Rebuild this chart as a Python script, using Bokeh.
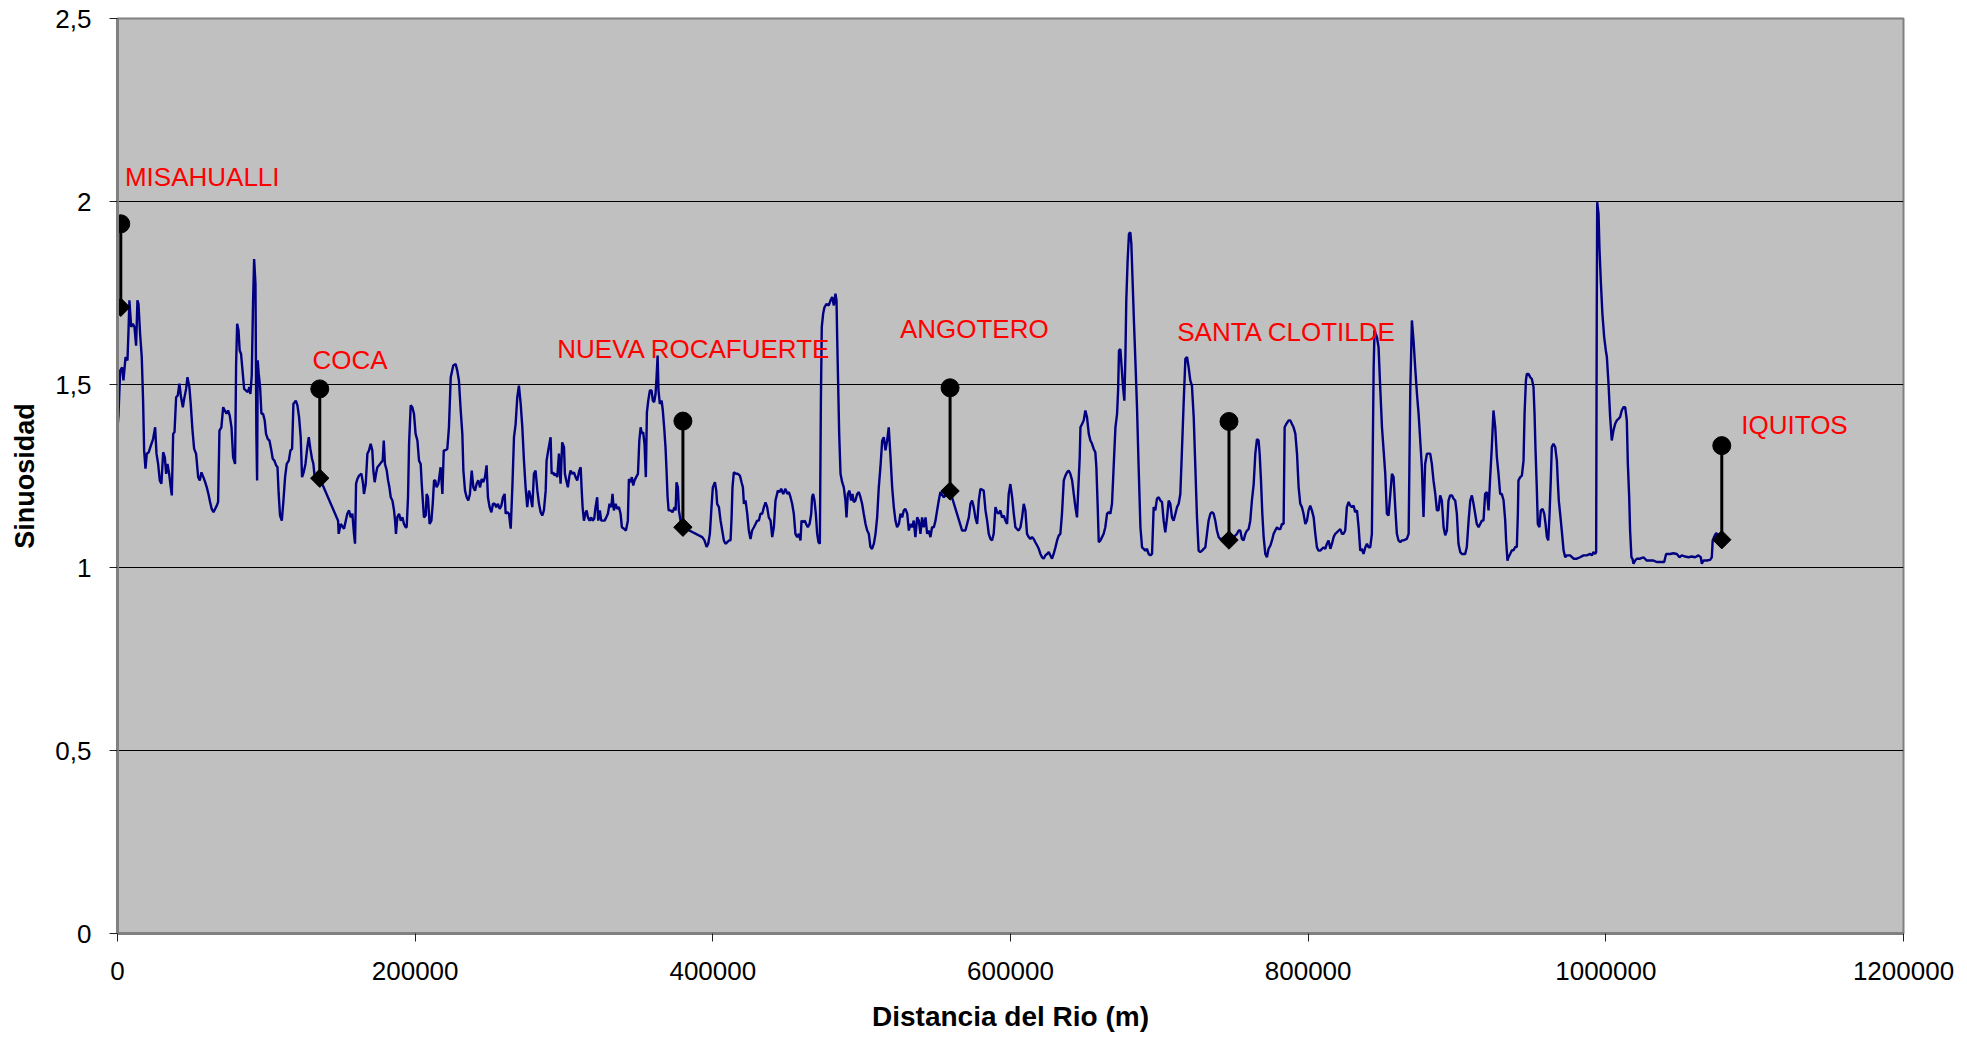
import numpy as np
from bokeh.plotting import figure
from bokeh.models import Range1d, FixedTicker
from bokeh.core.properties import value
from bokeh.embed import file_html
from bokeh.resources import INLINE

# ---------------- data ----------------
x_ticks = [0, 200000, 400000, 600000, 800000, 1000000, 1200000]
x_tick_labels = ["0", "200000", "400000", "600000", "800000", "1000000", "1200000"]
y_ticks = [0, 0.5, 1, 1.5, 2, 2.5]
y_tick_labels = ["0", "0,5", "1", "1,5", "2", "2,5"]

# river profile, Misahualli -> Coca
dist_a = [0, 650, 1800, 3100, 4000, 5400, 6700, 7400, 8000, 9200,
          10300, 11400, 12500, 13400, 14100, 15200, 16300, 17200, 17900, 18800,
          19700, 21000, 22400, 23900, 25300, 26200, 27300, 28400, 29500, 30700,
          31800, 32700, 33600, 34700, 35800, 36500, 37400, 38300, 39400, 40500,
          41600, 42700, 43900, 44800, 46100, 47000, 48300, 49200, 50400, 51500,
          52800, 54200, 55300, 56400, 57700, 58900, 60000, 61100, 62200, 63300,
          64500, 65600, 66700, 67600, 68500, 69800, 71000, 72100, 73200, 74300,
          75400, 76600, 77700, 79000, 79700, 80400, 81300, 82100, 83000, 84200,
          85100, 86200, 87500, 88600, 89300, 90200, 91100, 91800, 92700, 93300,
          93800, 94200, 94900, 95800, 96700, 97800, 98900, 99800, 101000, 102100,
          103200, 104300, 105400, 106600, 107500, 108300, 109200, 110400, 111500, 112600,
          113700, 115100, 116200, 117300, 118200, 119800, 120900, 122000, 123100, 124000,
          125100, 126300, 127400, 128500, 129600, 130700, 131600, 132500, 135900]
sin_a = [1.383, 1.415, 1.538, 1.547, 1.511, 1.575, 1.566, 1.648, 1.730, 1.657,
         1.666, 1.657, 1.606, 1.730, 1.720, 1.638, 1.575, 1.456, 1.320, 1.270,
         1.311, 1.315, 1.333, 1.351, 1.383, 1.311, 1.283, 1.238, 1.229, 1.315,
         1.301, 1.256, 1.283, 1.256, 1.219, 1.197, 1.365, 1.370, 1.465, 1.470,
         1.502, 1.465, 1.438, 1.461, 1.488, 1.520, 1.493, 1.447, 1.374, 1.324,
         1.311, 1.247, 1.238, 1.260, 1.247, 1.233, 1.219, 1.201, 1.179, 1.160,
         1.151, 1.160, 1.169, 1.179, 1.374, 1.383, 1.438, 1.429, 1.420, 1.429,
         1.415, 1.383, 1.301, 1.283, 1.556, 1.666, 1.648, 1.593, 1.584, 1.529,
         1.488, 1.484, 1.479, 1.493, 1.474, 1.525, 1.730, 1.843, 1.775, 1.365,
         1.238, 1.566, 1.529, 1.493, 1.420, 1.420, 1.402, 1.365, 1.351, 1.347,
         1.324, 1.297, 1.292, 1.279, 1.274, 1.201, 1.142, 1.128, 1.183, 1.247,
         1.283, 1.292, 1.320, 1.324, 1.447, 1.456, 1.443, 1.411, 1.356, 1.247,
         1.260, 1.283, 1.324, 1.356, 1.324, 1.297, 1.283, 1.247, 1.244]

# Coca -> ~290 km
dist_b = [148200, 148600, 150000, 152200, 154400, 155600, 156700, 157800, 158900, 159600,
          160300, 161200, 162300, 163900, 165000, 165600, 166800, 167900, 169000, 170100,
          171200, 171900, 172800, 173700, 174600, 175700, 177300, 178200, 178900, 179700,
          180900, 181800, 182700, 183600, 184700, 185800, 186500, 187100, 188000, 189200,
          190300, 191400, 192500, 193600, 194300, 195200, 195900, 197000, 198100, 199200,
          200300, 201500, 202600, 203700, 204400, 205300, 205900, 207100, 207700, 208600,
          209700, 210900, 211800, 212700, 213500, 214400, 215600, 217100, 218300, 219200,
          220000, 221600, 222700, 223900, 225600, 227200, 228300, 229400, 230600, 231700,
          232400, 233500, 234600, 235700, 236800, 238000, 239100, 240200, 241300, 242400,
          243600, 244700, 245800, 246900, 248000, 248900, 250000, 251200, 252300, 253400,
          254500, 255600, 256800, 257900, 259000, 260100, 260800, 261900, 263000, 264200,
          265300, 266400, 267500, 268600, 269700, 270900, 272000, 273100, 274200, 275300,
          276500, 277600, 278700, 279800, 280900, 282100, 283200, 284300, 285400, 286500,
          287700, 288300, 289400]
sin_b = [1.128, 1.092, 1.119, 1.106, 1.147, 1.156, 1.137, 1.147, 1.092, 1.065,
         1.229, 1.242, 1.251, 1.256, 1.229, 1.201, 1.229, 1.311, 1.320, 1.338,
         1.320, 1.265, 1.233, 1.256, 1.274, 1.279, 1.288, 1.292, 1.347, 1.283,
         1.265, 1.238, 1.219, 1.192, 1.183, 1.156, 1.128, 1.092, 1.137, 1.147,
         1.128, 1.137, 1.119, 1.110, 1.110, 1.192, 1.338, 1.443, 1.438, 1.420,
         1.365, 1.347, 1.292, 1.283, 1.229, 1.174, 1.137, 1.142, 1.201, 1.192,
         1.119, 1.128, 1.174, 1.238, 1.238, 1.219, 1.229, 1.274, 1.201, 1.320,
         1.320, 1.324, 1.383, 1.520, 1.552, 1.556, 1.538, 1.511, 1.429, 1.365,
         1.265, 1.210, 1.192, 1.183, 1.201, 1.265, 1.219, 1.210, 1.229, 1.238,
         1.219, 1.242, 1.233, 1.247, 1.279, 1.192, 1.165, 1.151, 1.174, 1.174,
         1.165, 1.174, 1.160, 1.169, 1.192, 1.201, 1.147, 1.151, 1.147, 1.106,
         1.219, 1.356, 1.392, 1.465, 1.497, 1.447, 1.383, 1.292, 1.219, 1.165,
         1.210, 1.192, 1.165, 1.256, 1.265, 1.210, 1.174, 1.151, 1.142, 1.156,
         1.210, 1.292, 1.320]

# ~290 km -> Nueva Rocafuerte -> ~442 km
dist_c = [291000, 291700, 292800, 293700, 294600, 295500, 296600, 297700, 298800, 300000,
          300600, 301800, 302600, 303500, 304400, 305600, 306700, 307800, 308900, 310300,
          311200, 311800, 312500, 313400, 314300, 315200, 316100, 317200, 318300, 319200,
          320300, 321200, 322300, 323000, 324100, 325000, 326200, 327300, 328400, 329500,
          330600, 331800, 332600, 333500, 334700, 335800, 336900, 338000, 338900, 340300,
          341600, 342900, 343600, 344700, 345600, 346500, 347400, 348500, 349700, 350600,
          351500, 352300, 353200, 354100, 355000, 355700, 356600, 357700, 358800, 359700,
          360600, 361500, 362200, 362900, 363500, 364400, 365600, 366400, 367300, 368200,
          368900, 369600, 370300, 371600, 372900, 374300, 375000, 375600, 376500, 377200,
          378300, 379900, 392900, 394400, 395800, 396900, 398000, 399100, 400000, 401400,
          402300, 402900, 404100, 405200, 406300, 407400, 408500, 409700, 411000, 411900,
          412600, 413200, 414100, 415500, 416800, 418200, 419300, 420200, 420900, 422000,
          423100, 424200, 425300, 426400, 427600, 428700, 429800, 430900, 432000, 433200,
          434300, 435400, 436500, 437600, 438800, 439900, 441000, 442100]
sin_c = [1.356, 1.256, 1.260, 1.251, 1.256, 1.247, 1.311, 1.229, 1.342, 1.329,
         1.256, 1.233, 1.219, 1.247, 1.265, 1.256, 1.260, 1.247, 1.238, 1.265,
         1.274, 1.219, 1.165, 1.128, 1.147, 1.156, 1.137, 1.128, 1.137, 1.128,
         1.133, 1.165, 1.192, 1.128, 1.156, 1.128, 1.128, 1.128, 1.137, 1.147,
         1.174, 1.165, 1.201, 1.156, 1.174, 1.160, 1.165, 1.147, 1.110, 1.106,
         1.101, 1.128, 1.242, 1.233, 1.247, 1.224, 1.238, 1.247, 1.256, 1.347,
         1.383, 1.365, 1.370, 1.338, 1.247, 1.424, 1.456, 1.484, 1.484, 1.456,
         1.452, 1.474, 1.520, 1.579, 1.484, 1.447, 1.456, 1.429, 1.383, 1.329,
         1.265, 1.192, 1.156, 1.156, 1.151, 1.165, 1.156, 1.233, 1.219, 1.156,
         1.128, 1.110, 1.083, 1.074, 1.056, 1.065, 1.092, 1.165, 1.219, 1.233,
         1.210, 1.174, 1.165, 1.128, 1.101, 1.074, 1.065, 1.069, 1.074, 1.074,
         1.137, 1.219, 1.260, 1.256, 1.256, 1.251, 1.233, 1.219, 1.174, 1.183,
         1.147, 1.101, 1.078, 1.101, 1.110, 1.119, 1.128, 1.128, 1.147, 1.147,
         1.165, 1.178, 1.165, 1.137, 1.128, 1.083, 1.110, 1.183]

# ~443 km -> Angotero -> ~580 km
dist_d = [443700, 445000, 445900, 447300, 448800, 450000, 451100, 452200, 453300, 454400,
          455500, 456700, 457800, 458900, 459600, 460700, 461800, 462700, 463800, 465000,
          466100, 466700, 467400, 468300, 469200, 470100, 471000, 471900, 472600, 473200,
          474100, 475000, 476400, 477900, 479100, 480200, 481300, 482400, 483100, 483500,
          484200, 484900, 485800, 486900, 488000, 489100, 489800, 490700, 491800, 492900,
          493800, 494700, 495800, 497000, 498100, 499200, 500300, 501400, 502600, 503700,
          504800, 505900, 507000, 508200, 509300, 510400, 511500, 512600, 513800, 514900,
          516000, 517100, 518200, 519400, 520500, 521600, 522700, 523800, 525000, 526100,
          527200, 528300, 529400, 530600, 531700, 532800, 533900, 535000, 536100, 537300,
          538400, 539500, 540600, 541700, 542900, 544000, 545100, 546200, 547300, 548500,
          549600, 550700, 551800, 552900, 555200, 559400, 567500, 569700, 572000, 573100,
          574200, 575300, 576400, 577600, 578700, 579800]
sin_d = [1.210, 1.206, 1.215, 1.201, 1.215, 1.201, 1.206, 1.192, 1.174, 1.147,
         1.092, 1.083, 1.092, 1.074, 1.128, 1.124, 1.128, 1.119, 1.110, 1.119,
         1.147, 1.192, 1.201, 1.183, 1.147, 1.092, 1.069, 1.065, 1.456, 1.657,
         1.693, 1.711, 1.720, 1.716, 1.730, 1.739, 1.716, 1.748, 1.730, 1.638,
         1.502, 1.365, 1.256, 1.233, 1.219, 1.183, 1.137, 1.201, 1.210, 1.183,
         1.201, 1.179, 1.183, 1.201, 1.206, 1.192, 1.174, 1.147, 1.119, 1.101,
         1.092, 1.056, 1.051, 1.065, 1.092, 1.137, 1.219, 1.274, 1.347, 1.356,
         1.320, 1.347, 1.383, 1.301, 1.219, 1.165, 1.128, 1.110, 1.119, 1.147,
         1.137, 1.156, 1.160, 1.147, 1.101, 1.119, 1.110, 1.128, 1.083, 1.137,
         1.128, 1.092, 1.137, 1.110, 1.137, 1.092, 1.101, 1.083, 1.110, 1.110,
         1.128, 1.156, 1.183, 1.206, 1.192, 1.209, 1.101, 1.101, 1.137, 1.174,
         1.183, 1.165, 1.137, 1.119, 1.183, 1.215]

# ~582 km -> Santa Clotilde -> ~874 km
dist_e = [582000, 583200, 584300, 585400, 586500, 587600, 588700, 589900, 591000, 592100,
          593200, 594300, 595500, 596600, 597700, 598800, 599900, 601100, 602200, 603300,
          604400, 605500, 606700, 607800, 608900, 610000, 611100, 612300, 613400, 614500,
          615600, 616700, 617900, 619000, 620100, 621200, 622300, 623400, 624600, 625700,
          626800, 627900, 629000, 630200, 631300, 632400, 633500, 634600, 635800, 636900,
          638000, 639100, 640200, 641400, 642500, 643600, 644700, 645800, 646500, 647000,
          648100, 649200, 650300, 651400, 652600, 653700, 654800, 655900, 657000, 657700,
          658600, 659300, 660400, 661500, 662600, 663700, 664900, 666000, 667100, 668200,
          669300, 670500, 671600, 672300, 672900, 673800, 674700, 675600, 676500, 677200,
          677800, 678700, 679600, 680500, 681200, 682100, 683000, 683900, 685000, 686100,
          687300, 688400, 689500, 690600, 691700, 692800, 694000, 695100, 696200, 697300,
          698400, 699600, 700700, 701800, 702900, 704000, 705200, 706300, 707400, 708500,
          709600, 710800, 711900, 713000, 714100, 715200, 716400, 717500, 718600, 719700,
          720800, 721900, 723100, 724200, 725300, 726400, 727500, 728700, 729800, 730900,
          732000, 733100, 734300, 735400, 736500, 737600, 738700, 739900, 741000, 743200,
          746800, 749900, 752200, 753300, 754400, 755500, 756600, 757800, 758900, 760000,
          761100, 762200, 763400, 764500, 765600, 766700, 767400, 768300, 769200, 770100,
          771200, 772300, 773400, 774600, 775700, 776800, 777900, 779000, 780200, 781300,
          782400, 783500, 784200, 785300, 786900, 788000, 789100, 790200, 791400, 792500,
          793600, 794700, 795800, 796900, 798100, 799200, 800300, 801400, 802500, 803700,
          804800, 805900, 807000, 808100, 809300, 810400, 811500, 812600, 813700, 814900,
          816000, 817100, 818200, 819300, 820500, 821600, 822700, 823800, 824900, 826000,
          827200, 828300, 829400, 830500, 831600, 832800, 833900, 835000, 836100, 837200,
          838400, 839500, 840600, 841700, 842800, 844000, 844600, 845500, 846200, 847300,
          848400, 849600, 850700, 851800, 852900, 854000, 855200, 856300, 857400, 858500,
          859600, 860700, 861900, 863000, 864100, 866300, 867500, 868600, 869700, 870800,
          871900, 873100, 874200]
sin_e = [1.210, 1.156, 1.128, 1.092, 1.078, 1.074, 1.092, 1.165, 1.151, 1.147,
         1.156, 1.137, 1.142, 1.128, 1.119, 1.201, 1.228, 1.192, 1.147, 1.110,
         1.105, 1.101, 1.110, 1.137, 1.174, 1.156, 1.092, 1.083, 1.078, 1.083,
         1.078, 1.069, 1.060, 1.051, 1.037, 1.028, 1.024, 1.033, 1.037, 1.042,
         1.033, 1.024, 1.037, 1.055, 1.074, 1.087, 1.092, 1.147, 1.238, 1.251,
         1.260, 1.265, 1.256, 1.238, 1.201, 1.165, 1.137, 1.238, 1.301, 1.383,
         1.392, 1.402, 1.429, 1.411, 1.365, 1.347, 1.338, 1.324, 1.315, 1.274,
         1.165, 1.069, 1.074, 1.083, 1.092, 1.110, 1.147, 1.151, 1.147, 1.174,
         1.274, 1.383, 1.420, 1.484, 1.593, 1.597, 1.547, 1.493, 1.456, 1.575,
         1.730, 1.839, 1.912, 1.916, 1.884, 1.775, 1.666, 1.566, 1.438, 1.274,
         1.110, 1.055, 1.051, 1.046, 1.051, 1.037, 1.033, 1.037, 1.165, 1.156,
         1.188, 1.192, 1.183, 1.179, 1.128, 1.096, 1.137, 1.183, 1.174, 1.137,
         1.128, 1.147, 1.165, 1.174, 1.201, 1.320, 1.456, 1.570, 1.575, 1.547,
         1.511, 1.497, 1.411, 1.274, 1.137, 1.046, 1.042, 1.046, 1.051, 1.055,
         1.092, 1.128, 1.147, 1.151, 1.147, 1.128, 1.101, 1.083, 1.078, 1.078,
         1.075, 1.083, 1.092, 1.101, 1.101, 1.078, 1.074, 1.092, 1.101, 1.105,
         1.128, 1.183, 1.228, 1.311, 1.351, 1.347, 1.311, 1.238, 1.147, 1.083,
         1.037, 1.028, 1.051, 1.060, 1.074, 1.092, 1.101, 1.110, 1.105, 1.105,
         1.119, 1.119, 1.383, 1.392, 1.402, 1.402, 1.392, 1.383, 1.365, 1.311,
         1.219, 1.174, 1.165, 1.147, 1.119, 1.128, 1.156, 1.169, 1.156, 1.137,
         1.092, 1.055, 1.046, 1.046, 1.051, 1.055, 1.051, 1.065, 1.074, 1.051,
         1.065, 1.083, 1.092, 1.096, 1.101, 1.105, 1.092, 1.092, 1.101, 1.165,
         1.179, 1.169, 1.165, 1.169, 1.151, 1.156, 1.110, 1.046, 1.051, 1.037,
         1.055, 1.065, 1.055, 1.055, 1.092, 1.547, 1.648, 1.638, 1.629, 1.602,
         1.493, 1.383, 1.320, 1.256, 1.147, 1.142, 1.201, 1.256, 1.247, 1.165,
         1.092, 1.074, 1.069, 1.074, 1.074, 1.078, 1.092, 1.484, 1.675, 1.620,
         1.547, 1.474, 1.420]

# ~876 km -> Iquitos
dist_f = [876400, 877500, 878600, 879800, 882000, 883100, 884200, 885400, 886500, 887600,
          888700, 889800, 891000, 892100, 893200, 894300, 895400, 896600, 897700, 898800,
          899900, 901000, 902200, 903300, 905500, 906600, 907800, 908900, 910000, 911100,
          912200, 913300, 914500, 915600, 916700, 917800, 918900, 920100, 921200, 922300,
          923400, 924500, 925700, 926800, 927900, 929000, 930100, 931300, 932400, 933000,
          933900, 934600, 935700, 936900, 938000, 939100, 940200, 940900, 941300, 942500,
          943600, 944700, 945400, 946300, 946900, 948000, 949200, 950300, 951400, 952100,
          952700, 953600, 954300, 955400, 956300, 957500, 958600, 959500, 960400, 961300,
          962200, 963000, 963700, 964800, 966000, 967100, 967700, 968400, 969300, 970400,
          971600, 972700, 973800, 976000, 978300, 980500, 982700, 985000, 987200, 989500,
          990600, 991700, 992800, 993500, 993900, 994200, 995100, 995700, 996600, 997700,
          998900, 1000000, 1000700, 1001800, 1002900, 1004000, 1005100, 1006300, 1007400, 1008500,
          1009600, 1010700, 1011900, 1013000, 1014100, 1014800, 1015700, 1016300, 1017200, 1017900,
          1018600, 1019700, 1020800, 1023000, 1025300, 1027500, 1029800, 1032000, 1034200, 1036500,
          1039200, 1040500, 1043200, 1045400, 1047700, 1049500, 1051000, 1053300, 1055500, 1057700,
          1060000, 1062200, 1063800, 1064500, 1065600, 1067800, 1070100, 1071200, 1071800, 1072700,
          1074100, 1075700]
sin_f = [1.274, 1.138, 1.283, 1.311, 1.311, 1.283, 1.238, 1.201, 1.156, 1.156,
         1.197, 1.183, 1.110, 1.088, 1.101, 1.183, 1.197, 1.197, 1.188, 1.183,
         1.147, 1.065, 1.042, 1.037, 1.037, 1.056, 1.128, 1.183, 1.197, 1.174,
         1.147, 1.119, 1.110, 1.119, 1.128, 1.128, 1.201, 1.206, 1.156, 1.247,
         1.329, 1.429, 1.383, 1.301, 1.256, 1.201, 1.201, 1.183, 1.128, 1.074,
         1.019, 1.028, 1.037, 1.047, 1.047, 1.056, 1.056, 1.147, 1.238, 1.247,
         1.251, 1.292, 1.420, 1.511, 1.529, 1.529, 1.520, 1.515, 1.493, 1.420,
         1.329, 1.220, 1.119, 1.110, 1.156, 1.160, 1.147, 1.119, 1.083, 1.074,
         1.147, 1.238, 1.329, 1.338, 1.329, 1.292, 1.238, 1.183, 1.147, 1.101,
         1.047, 1.028, 1.033, 1.033, 1.024, 1.024, 1.028, 1.033, 1.033, 1.037,
         1.033, 1.042, 1.037, 1.042, 1.693, 1.998, 1.966, 1.875, 1.784, 1.693,
         1.629, 1.593, 1.575, 1.502, 1.411, 1.347, 1.374, 1.393, 1.402, 1.406,
         1.411, 1.429, 1.438, 1.438, 1.402, 1.283, 1.192, 1.101, 1.028, 1.024,
         1.010, 1.019, 1.024, 1.024, 1.028, 1.019, 1.019, 1.019, 1.015, 1.015,
         1.015, 1.037, 1.037, 1.039, 1.037, 1.028, 1.033, 1.030, 1.028, 1.030,
         1.028, 1.033, 1.028, 1.010, 1.019, 1.019, 1.021, 1.028, 1.074, 1.083,
         1.094, 1.088]

# towns: upper (circle) and lower (diamond) sinuosity values
towns = ["MISAHUALLI", "COCA", "NUEVA ROCAFUERTE", "ANGOTERO", "SANTA CLOTILDE", "IQUITOS"]
town_dist = [2200, 135900, 379900, 559400, 746800, 1077900]
town_upper = [1.939, 1.488, 1.400, 1.491, 1.399, 1.333]
town_lower = [1.711, 1.244, 1.110, 1.209, 1.075, 1.076]
label_x = [5000, 131000, 295500, 525700, 712000, 1091000]
label_y = [2.067, 1.566, 1.598, 1.652, 1.643, 1.388]

# ---------------- figure ----------------
dist = dist_a + dist_b + dist_c + dist_d + dist_e + dist_f
sinu = sin_a + sin_b + sin_c + sin_d + sin_e + sin_f
n = min(len(dist), len(sinu))
dist, sinu = dist[:n], sinu[:n]

p = figure(width=1967, height=1037, output_backend="svg", toolbar_location=None,
           x_range=Range1d(0, 1200000), y_range=Range1d(0, 2.5),
           min_border_left=117, min_border_right=64, min_border_top=18, min_border_bottom=104)

p.background_fill_color = "#C0C0C0"
p.border_fill_color = "white"
p.outline_line_color = "#808080"
p.outline_line_width = 2

FONT = "Liberation Sans"

p.xaxis.ticker = FixedTicker(ticks=x_ticks)
p.xaxis.major_label_overrides = {t: s for t, s in zip(x_ticks, x_tick_labels)}
p.yaxis.ticker = FixedTicker(ticks=y_ticks)
p.yaxis.major_label_overrides = {t: s for t, s in zip(y_ticks, y_tick_labels)}

for ax in (p.xaxis[0], p.yaxis[0]):
    ax.axis_line_color = "#808080"
    ax.axis_line_width = 3
    ax.major_tick_line_color = "#202020"
    ax.major_tick_line_width = 1
    ax.major_tick_in = 0
    ax.major_tick_out = 8
    ax.minor_tick_line_color = None
    ax.major_label_text_font = FONT
    ax.major_label_text_font_size = "26px"
    ax.major_label_text_color = "black"
    ax.axis_label_text_font = FONT
    ax.axis_label_text_font_style = "bold"
    ax.axis_label_text_color = "black"

p.xaxis.axis_label = "Distancia del Rio (m)"
p.xaxis.axis_label_text_font_size = "28px"
p.xaxis.major_label_standoff = 20
p.xaxis.axis_label_standoff = 18
p.yaxis.axis_label = "Sinuosidad"
p.yaxis.axis_label_text_font_size = "27px"
p.yaxis.major_label_standoff = 18
p.yaxis.axis_label_standoff = 12

p.xgrid.grid_line_color = None
p.ygrid.grid_line_color = "black"
p.ygrid.grid_line_width = 1

p.line(dist, sinu, line_color="#000080", line_width=2.4)

p.segment(x0=town_dist, y0=town_lower, x1=town_dist, y1=town_upper,
          line_color="black", line_width=3)
p.scatter(town_dist, town_upper, marker="circle", size=18, color="black")
p.scatter(town_dist, town_lower, marker="square", angle=np.pi / 4, size=13, color="black")

p.text(x=label_x, y=label_y, text=towns, text_color="#FF0000",
       text_font=value(FONT), text_font_size="26px",
       text_align="left", text_baseline="alphabetic")

open("out.html", "w").write(file_html(p, INLINE))
